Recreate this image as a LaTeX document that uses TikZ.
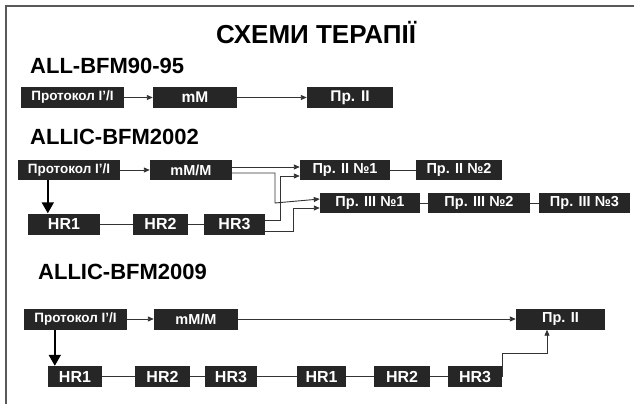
\documentclass[tikz,border=0pt]{standalone}
\usepackage{fontspec}
\setmainfont{Liberation Sans}
\usetikzlibrary{arrows.meta}
\definecolor{boxc}{HTML}{262626}
\definecolor{linec}{HTML}{333333}
\tikzset{
  bx/.style={fill=boxc, text=white, inner sep=0pt, font=\bfseries\fontsize{13.5}{13.5}\selectfont},
  bt/.style={bx, font=\bfseries\fontsize{14.5}{14.5}\selectfont},
  bu/.style={bx, font=\bfseries\fontsize{15.5}{15.5}\selectfont},
  hr/.style={bx, font=\bfseries\fontsize{16}{16}\selectfont},
  arr/.style={draw=linec, line width=0.9pt, -{Triangle[length=6pt,width=5pt]}},
  ln/.style={draw=linec, line width=0.9pt},
  bigarr/.style={draw=black, line width=2pt, -{Triangle[length=11pt,width=12pt]}},
  lab/.style={anchor=west, inner sep=0pt, font=\bfseries\fontsize{22}{22}\selectfont}
}
\begin{document}
\begin{tikzpicture}[x=1pt,y=-1pt]
\useasboundingbox (0,0) rectangle (634,404);
\fill[white] (0,0) rectangle (634,404);
\draw[black!65, line width=1.5pt] (6,404) -- (6,6) -- (634,6);
% title and section labels
\node[inner sep=0pt, font=\bfseries\fontsize{26}{26}\selectfont] (title) at (316,33) {СХЕМИ ТЕРАПІЇ};
\node[lab] (l1) at (30,66) {ALL-BFM90-95};
\node[lab] (l2) at (30,137) {ALLIC-BFM2002};
\node[lab] (l3) at (38,272) {ALLIC-BFM2009};
% row 1
\node[bx, minimum width=103pt, minimum height=21pt] (p1a) at (72.5,97.5) {Протокол I'/I};
\node[bu, minimum width=84pt, minimum height=21pt] (p1b) at (195,97.5) {mM};
\node[bu, minimum width=86pt, minimum height=21pt] (p1c) at (350,97.5) {Пр. II};
\draw[arr] (p1a) -- (p1b);
\draw[arr] (p1b) -- (p1c);
% row 2
\node[bx, minimum width=102pt, minimum height=20pt] (p2a) at (69,170) {Протокол I'/I};
\node[bt, minimum width=82pt, minimum height=20pt] (p2b) at (191,170) {mM/M};
\node[bt, minimum width=90pt, minimum height=20pt] (p2c) at (345,170) {Пр. II №1};
\node[bt, minimum width=86pt, minimum height=20pt] (p2d) at (459,170) {Пр. II №2};
\node[bt, minimum width=100pt, minimum height=20pt] (p3a) at (370,203) {Пр. III №1};
\node[bt, minimum width=102pt, minimum height=20pt] (p3b) at (479,203) {Пр. III №2};
\node[bt, minimum width=91pt, minimum height=20pt] (p3c) at (584.5,203) {Пр. III №3};
\node[hr, minimum width=72pt, minimum height=21pt] (h1) at (64,224) {HR1};
\node[hr, minimum width=55pt, minimum height=21pt] (h2) at (160.5,224) {HR2};
\node[hr, minimum width=61pt, minimum height=21pt] (h3) at (234.5,224) {HR3};
\coordinate (c2a) at (275,0);
\coordinate (c2b) at (280,0);
\coordinate (c2c) at (293,0);
\draw[arr] (p2a) -- (p2b);
\draw[bigarr] (p2a.south west) ++(30,0) coordinate (d2) -- (d2 |- h1.north);
\draw[ln] (h1) -- (h2);
\draw[ln] (h2) -- (h3);
\draw[ln] (p2c) -- (p2d);
\draw[ln] (p3a) -- (p3b);
\draw[ln] (p3b) -- (p3c);
\draw[arr] ([yshift=3pt]p2b.east) -- ([yshift=3pt]p2c.west);
\draw[arr] ([yshift=-3pt]p2b.east) -| (c2a |- p3a) -- ([yshift=4pt]p3a.west);
\draw[arr] ([yshift=4pt]h3.east) -| ([yshift=-6pt]c2b |- p2c) -- ([yshift=-6pt]p2c.west);
\draw[arr] ([yshift=-7pt]h3.east) -| ([yshift=-5pt]c2c |- p3a) -- ([yshift=-5pt]p3a.west);
% row 3
\node[bx, minimum width=103pt, minimum height=21pt] (q1) at (75.5,319) {Протокол I'/I};
\node[bt, minimum width=84pt, minimum height=21pt] (q2) at (196,319) {mM/M};
\node[bt, minimum width=89pt, minimum height=21pt] (q3) at (560.5,319) {Пр. II};
\node[hr, minimum width=54pt, minimum height=21pt] (r1) at (75,376.5) {HR1};
\node[hr, minimum width=55pt, minimum height=21pt] (r2) at (162.5,376.5) {HR2};
\node[hr, minimum width=52pt, minimum height=21pt] (r3) at (231,376.5) {HR3};
\node[hr, minimum width=49pt, minimum height=21pt] (r4) at (321.5,376.5) {HR1};
\node[hr, minimum width=56pt, minimum height=21pt] (r5) at (402,376.5) {HR2};
\node[hr, minimum width=54pt, minimum height=21pt] (r6) at (475,376.5) {HR3};
\draw[arr] (q1) -- (q2);
\draw[arr] (q2) -- (q3);
\draw[bigarr] (q1.south west) ++(31,0) coordinate (d3) -- (d3 |- r1.north);
\draw[ln] (r1) -- (r2);
\draw[ln] (r2) -- (r3);
\draw[ln] (r3) -- (r4);
\draw[ln] (r4) -- (r5);
\draw[ln] (r5) -- (r6);
\coordinate (k3) at (547,353);
\draw[arr] (r6.east) -- (r6.east |- k3) -- (k3) -- (k3 |- q3.south);
\end{tikzpicture}
\end{document}
